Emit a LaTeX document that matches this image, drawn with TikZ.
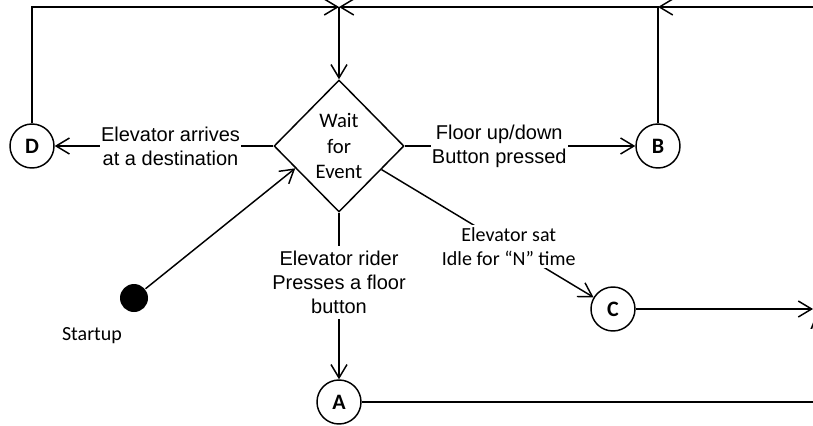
\documentclass[tikz,border=0pt]{standalone}
\usepackage{fontspec}
\setmainfont{Liberation Sans}
\newfontfamily\calibri{Carlito}
\usetikzlibrary{shapes.geometric,arrows.meta}

\begin{document}
\begin{tikzpicture}
  [x=0.75pt,y=-0.75pt,line width=1.1pt,
   >={Straight Barb[length=10pt,width=12pt]},
   state/.style={circle,draw,minimum size=33pt,inner sep=0pt,
     font=\calibri\bfseries\fontsize{16.5}{19}\selectfont},
   event/.style={diamond,draw,minimum width=97.5pt,minimum height=99pt,
     inner sep=0pt,align=center,font=\calibri\fontsize{15.5}{19}\selectfont},
   lbl/.style={fill=white,align=center,inner xsep=1pt,inner ysep=4pt,
     font=\fontsize{15}{18}\selectfont},
   note/.style={fill=white,align=center,inner sep=2pt,
     font=\calibri\fontsize{15}{18}\selectfont}]
  \useasboundingbox (0,0) rectangle (813,425);

  % states
  \node[event] (wait) at (339,146) {Wait\\for\\Event};
  \node[state] (d) at (32,146) {D};
  \node[state] (b) at (658,146) {B};
  \node[state] (c) at (613,309) {C};
  \node[state] (a) at (339,402) {A};
  \node[circle,fill,minimum size=21pt,inner sep=0pt] (start) at (134,298) {};
  \node[font=\calibri\fontsize{15}{17}\selectfont] (startlbl) at (92,336) {Startup};
  \node[font=\fontsize{15}{18}\selectfont] (edge) at (817,323) {A};

  \coordinate (merge) at (339,7);
  \coordinate (join) at (658,7);
  \coordinate (feed) at (820,7);
  \coordinate (cout) at (813,309);
  \coordinate (aout) at (820,402);

  % loop back to the wait state
  \draw[->] (d) |- (merge);
  \draw[->] (b) |- (merge);
  \draw[->] (feed) -- (join);
  \draw[->] (merge) -- (wait);

  % events
  \draw[->] (wait.west) -- node[lbl,pos=0.47] {Elevator arrives\\at a destination} (d);
  \draw[->] (wait.east) -- node[lbl,pos=0.41] {Floor up/down\\Button pressed} (b);
  \draw[->] (wait.south) -- node[lbl,pos=0.42] {Elevator rider\\Presses a floor\\button} (a);
  \draw[->] (wait.331) -- node[note,pos=0.6] {Elevator sat\\Idle for “N” time} (c);
  \draw[->] (start) -- (wait.207);

  \draw[->] (c) -- (cout);
  \draw (a) -- (aout);
\end{tikzpicture}
\end{document}
